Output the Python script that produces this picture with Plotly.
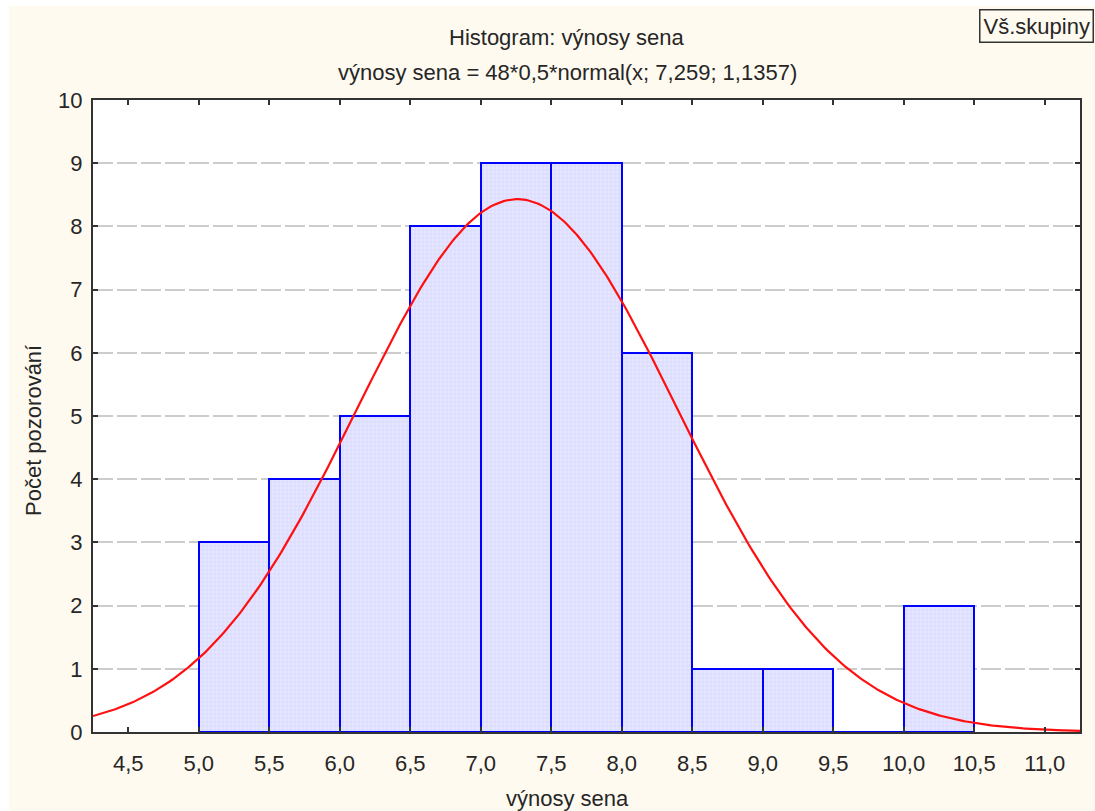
import numpy as np
import plotly.graph_objects as go

# ---- data ----
bin_left = [5.0, 5.5, 6.0, 6.5, 7.0, 7.5, 8.0, 8.5, 9.0, 9.5, 10.0]
counts = [3, 4, 5, 8, 9, 9, 6, 1, 1, 0, 2]
bin_width = 0.5
n_obs = 48
fit_mean = 7.259
fit_sd = 1.1357

x_tickvals = [4.5, 5.0, 5.5, 6.0, 6.5, 7.0, 7.5, 8.0, 8.5, 9.0, 9.5, 10.0, 10.5, 11.0]
x_ticktext = ["4,5", "5,0", "5,5", "6,0", "6,5", "7,0", "7,5", "8,0", "8,5", "9,0", "9,5", "10,0", "10,5", "11,0"]
y_tickvals = list(range(0, 11))

title1 = "Histogram: výnosy sena"
title2 = "výnosy sena = 48*0,5*normal(x; 7,259; 1,1357)"
x_title = "výnosy sena"
y_title = "Počet pozorování"
legend_text = "Vš.skupiny"

x_range = [4.25, 11.25]

# ---- figure ----
W, H = 1095, 811
ml, mr, mt, mb = 93, 15, 100, 79
pw, ph = W - ml - mr, H - mt - mb

def px_x(px):
    return (px - ml) / pw

def px_y(py):
    return (H - mb - py) / ph

FONT = "Liberation Sans, Arial, sans-serif"
TXT = "#262626"
FS = 22

centers = [l + bin_width / 2 for l in bin_left]

fig = go.Figure()
fig.add_trace(go.Bar(
    x=centers, y=counts, width=[bin_width] * len(counts),
    marker=dict(color="#E2E2FF",
                line=dict(color="#0000FF", width=2),
                pattern=dict(shape="+", fgcolor="#C4C4FF", bgcolor="#E6E6FF", size=4, solidity=0.3)),
    showlegend=False, hoverinfo="skip",
))

xs = np.linspace(x_range[0], x_range[1], 400)
ys = n_obs * bin_width * np.exp(-0.5 * ((xs - fit_mean) / fit_sd) ** 2) / (fit_sd * np.sqrt(2 * np.pi))
fig.add_trace(go.Scatter(x=xs, y=ys, mode="lines", line=dict(color="#FF1010", width=2.2),
                         showlegend=False, hoverinfo="skip"))

fig.update_layout(
    width=W, height=H,
    margin=dict(l=ml, r=mr, t=mt, b=mb),
    paper_bgcolor="#FEFAF0",
    plot_bgcolor="#FFFFFF",
    font=dict(family=FONT, size=FS, color=TXT),
    bargap=0,
)

fig.update_xaxes(
    range=x_range, tickvals=x_tickvals, ticktext=x_ticktext,
    showgrid=False, zeroline=False,
    showline=True, linecolor="#333333", linewidth=2, mirror="ticks",
    ticks="inside", ticklen=5, tickwidth=2, tickcolor="#333333",
    ticklabelstandoff=11,
    tickfont=dict(size=FS, color=TXT),
)
fig.update_yaxes(
    range=[0, 10], tickvals=y_tickvals,
    showgrid=True, gridcolor="#CCCCCC", gridwidth=2, griddash="20px,4px",
    zeroline=False,
    showline=True, linecolor="#333333", linewidth=2, mirror="ticks",
    ticks="inside", ticklen=5, tickwidth=2, tickcolor="#333333",
    ticklabelstandoff=4,
    tickfont=dict(size=FS, color=TXT),
)

annos = [
    dict(text=title1, x=px_x(567), y=px_y(38)),
    dict(text=title2, x=px_x(567), y=px_y(72)),
    dict(text=x_title, x=px_x(567), y=px_y(799)),
    dict(text=y_title, x=px_x(33), y=px_y(431), textangle=-90),
]
for a in annos:
    fig.add_annotation(xref="paper", yref="paper", showarrow=False,
                       xanchor="center", yanchor="middle",
                       font=dict(family=FONT, size=FS, color=TXT), **a)

fig.add_annotation(xref="paper", yref="paper", x=px_x(1094), y=px_y(9),
                   xanchor="right", yanchor="top", showarrow=False,
                   text=legend_text, font=dict(family=FONT, size=FS, color=TXT),
                   bordercolor="#333333", borderwidth=1.5, borderpad=3,
                   bgcolor="#FEFAF0")

# white outer strips (left / top) as in the reference
fig.add_shape(type="rect", xref="paper", yref="paper", x0=px_x(0), x1=px_x(9), y0=px_y(811), y1=px_y(0),
              fillcolor="#FFFFFF", line=dict(width=0), layer="below")
fig.add_shape(type="rect", xref="paper", yref="paper", x0=px_x(0), x1=px_x(1095), y0=px_y(6), y1=px_y(0),
              fillcolor="#FFFFFF", line=dict(width=0), layer="below")

fig.write_html("out.html")
